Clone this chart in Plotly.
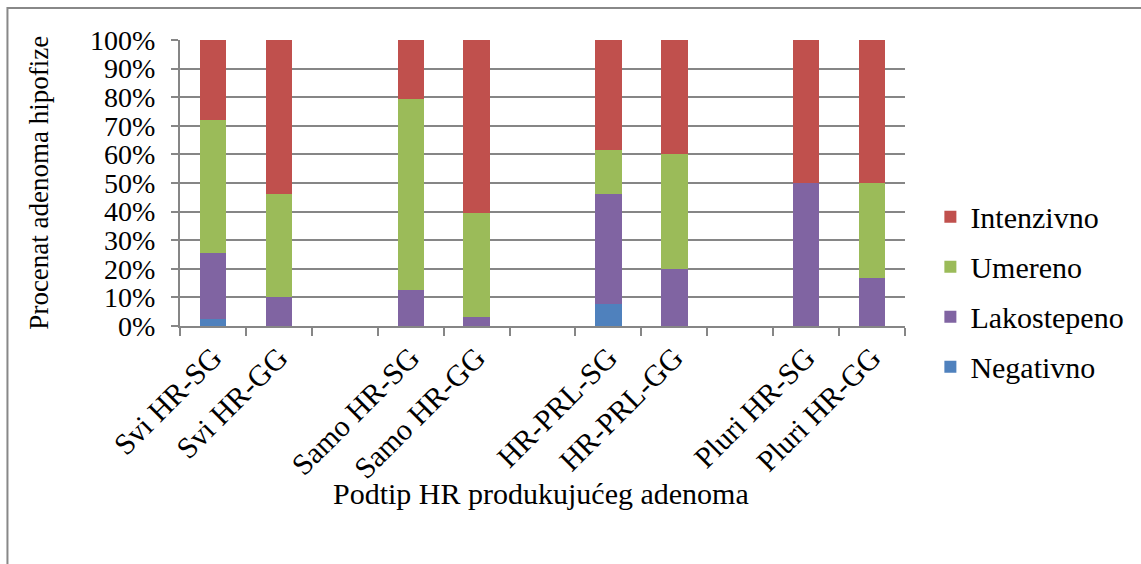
import plotly.graph_objects as go

categories = ["Svi HR-SG", "Svi HR-GG", " ", "Samo HR-SG", "Samo HR-GG", "  ",
              "HR-PRL-SG", "HR-PRL-GG", "   ", "Pluri HR-SG", "Pluri HR-GG"]
negativno   = [2.3, 0, None, 0, 0, None, 7.7, 0, None, 0, 0]
lakostepeno = [23.3, 10.0, None, 12.5, 3.0, None, 38.5, 20.0, None, 50.0, 16.7]
umereno     = [46.5, 36.0, None, 66.7, 36.4, None, 15.4, 40.0, None, 0, 33.3]
intenzivno  = [27.9, 54.0, None, 20.8, 60.6, None, 38.4, 40.0, None, 50.0, 50.0]
y_ticks = [0, 10, 20, 30, 40, 50, 60, 70, 80, 90, 100]

series = [
    ("Negativno", negativno, "#4F81BD", 4),
    ("Lakostepeno", lakostepeno, "#8064A2", 3),
    ("Umereno", umereno, "#9BBB59", 2),
    ("Intenzivno", intenzivno, "#C0504D", 1),
]

FONT = "Liberation Serif"
fig = go.Figure()
for name, vals, col, rank in series:
    fig.add_trace(go.Bar(x=categories, y=vals, name=name, legendgroup=name,
                         legendrank=rank,
                         marker=dict(color=col, line=dict(width=0))))

fig.update_layout(
    barmode="stack", bargap=0.6,
    width=1141, height=564,
    margin=dict(l=180, r=234, t=40, b=238),
    paper_bgcolor="white", plot_bgcolor="white",
    font=dict(family=FONT, size=26, color="black"),
    showlegend=True,
    legend=dict(traceorder="grouped", tracegroupgap=8,
                x=1.035, y=0.12, xanchor="left", yanchor="middle",
                font=dict(family=FONT, size=30, color="black"), itemwidth=30),
    xaxis=dict(categoryorder="array", categoryarray=categories,
               tickangle=-45, tickson="boundaries", ticks="outside", ticklen=8,
               tickcolor="#868686", tickwidth=2,
               showline=True, linecolor="#868686", linewidth=2, showgrid=False,
               tickfont=dict(family=FONT, size=30, color="black")),
    yaxis=dict(range=[0, 100], tickvals=y_ticks,
               ticktext=[f"{v}%" for v in y_ticks],
               ticks="outside", ticklen=7, tickcolor="#868686", tickwidth=2,
               ticklabelstandoff=10,
               showline=True, linecolor="#868686", linewidth=2,
               showgrid=True, gridcolor="#868686", gridwidth=2,
               tickfont=dict(family=FONT, size=28, color="black")),
    annotations=[
        dict(text="Podtip HR produkujućeg adenoma", xref="paper", yref="paper",
             x=0.498, y=-0.587, xanchor="center", yanchor="middle", showarrow=False,
             font=dict(family=FONT, size=30, color="black")),
        dict(text="Procenat adenoma hipofize", xref="paper", yref="paper",
             x=-0.195, y=0.5, xanchor="center", yanchor="middle", showarrow=False,
             textangle=-90, font=dict(family=FONT, size=27, color="black")),
    ],
)

fig.add_shape(type="rect", xref="paper", yref="paper",
              x0=-0.238, x1=1.35, y0=-0.9, y1=1.112,
              line=dict(color="#888888", width=2), fillcolor="rgba(0,0,0,0)",
              layer="below")

fig.write_html("out.html")
